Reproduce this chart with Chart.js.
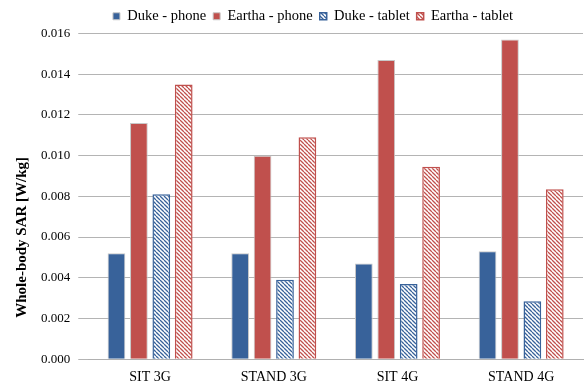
<!DOCTYPE html>
<html><head><meta charset="utf-8">
<script src="https://cdn.jsdelivr.net/npm/chart.js@4"></script>
<style>html,body{margin:0;padding:0;background:#fff}#wrap{width:588px;height:383px}</style>
</head><body><div id="wrap"><canvas id="c"></canvas></div>
<script>
const categories = ["SIT 3G", "STAND 3G", "SIT 4G", "STAND 4G"];
const seriesNames = ["Duke - phone", "Eartha - phone", "Duke - tablet", "Eartha - tablet"];
const dukePhone = [0.0052, 0.0052, 0.0047, 0.0053];
const earthaPhone = [0.0116, 0.0100, 0.0147, 0.0157];
const dukeTablet = [0.0081, 0.0039, 0.0037, 0.00285];
const earthaTablet = [0.0135, 0.0109, 0.00945, 0.00835];
const yTitle = "Whole-body SAR [W/kg]";

const BLUE = "#38629A", RED = "#C0504D";
function hatch(color) {
  const s = 4, cv = document.createElement("canvas");
  cv.width = s; cv.height = s;
  const g = cv.getContext("2d");
  g.fillStyle = "#fff"; g.fillRect(0, 0, s, s);
  g.strokeStyle = color; g.lineWidth = 1.3;
  g.beginPath();
  for (let k = -1; k <= 1; k++) { g.moveTo(k * s, 0); g.lineTo(k * s + s, s); }
  g.stroke();
  return g.createPattern(cv, "repeat");
}
const serif = "'Liberation Serif', 'Times New Roman', serif";

const yTitlePlugin = {
  id: "yTitlePlugin",
  afterLayout(chart) {
    if (chart.legend) { chart.legend.left += 5; chart.legend.right += 5; }
  },
  afterDraw(chart) {
    const ctx = chart.ctx, y = chart.scales.y;
    ctx.save();
    ctx.translate(22, (y.top + y.bottom) / 2 + 41);
    ctx.rotate(-Math.PI / 2);
    ctx.font = "bold 15px " + serif;
    ctx.fillStyle = "#000";
    ctx.textAlign = "center";
    ctx.textBaseline = "middle";
    ctx.fillText(yTitle, 0, 0);
    ctx.restore();
  }
};

new Chart(document.getElementById("c"), {
  type: "bar",
  data: {
    labels: categories,
    datasets: [
      { label: seriesNames[0], data: dukePhone, backgroundColor: BLUE, borderColor: "#C8C8C8", borderWidth: 1 },
      { label: seriesNames[1], data: earthaPhone, backgroundColor: RED, borderColor: "#C8C8C8", borderWidth: 1 },
      { label: seriesNames[2], data: dukeTablet, backgroundColor: hatch(BLUE), borderColor: BLUE, borderWidth: 1.5 },
      { label: seriesNames[3], data: earthaTablet, backgroundColor: hatch(RED), borderColor: RED, borderWidth: 1.5 }
    ]
  },
  plugins: [yTitlePlugin],
  options: {
    responsive: true, maintainAspectRatio: false, animation: false,
    datasets: { bar: { categoryPercentage: 0.725, barPercentage: 0.79 } },
    layout: { padding: { left: 33, right: 5, top: 2, bottom: -13 } },
    plugins: {
      tooltip: { enabled: false },
      legend: {
        position: "top",
        labels: { font: { family: serif, size: 14.5 }, color: "#000", boxWidth: 7, boxHeight: 7, padding: 7 }
      }
    },
    scales: {
      x: {
        grid: { display: false, drawTicks: false },
        border: { color: "#B0B0B0", width: 1 },
        ticks: { font: { family: serif, size: 14 }, color: "#000", padding: 10 }
      },
      y: {
        min: 0, max: 0.016,
        grid: { color: "#B4B4B4", tickLength: 10, drawTicks: true },
        border: { display: false },
        ticks: { stepSize: 0.002, font: { family: serif, size: 13 }, color: "#000", padding: 8, callback: v => v.toFixed(3) }
      }
    }
  }
});
</script></body></html>
